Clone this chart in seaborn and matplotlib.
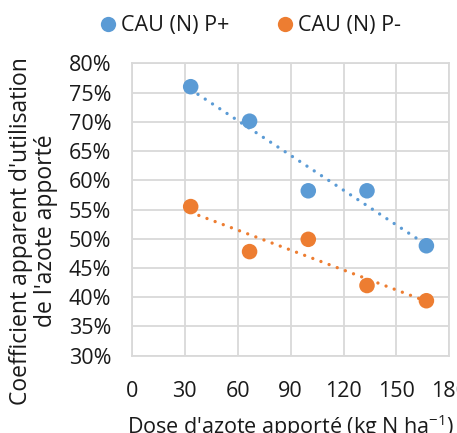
import matplotlib
matplotlib.use("Agg")
import matplotlib.pyplot as plt
import seaborn as sns
import pandas as pd
import numpy as np
from matplotlib.ticker import FuncFormatter

sns.set_style("white")
plt.rcParams['font.family'] = ['Open Sans', 'DejaVu Sans']
plt.rcParams['mathtext.fontset'] = 'custom'
plt.rcParams['mathtext.rm'] = 'Open Sans'
plt.rcParams['mathtext.it'] = 'Open Sans'

doses = [33.3, 66.7, 100, 133.3, 167]
cau_p_plus = [76.0, 70.1, 58.2, 58.2, 48.8]
cau_p_minus = [55.5, 47.8, 49.9, 42.0, 39.4]
series_names = ["CAU (N) P+", "CAU (N) P-"]
colors = ["#5B9BD5", "#ED7D31"]
x_ticks = [0, 30, 60, 90, 120, 150, 180]
y_ticks = [30, 35, 40, 45, 50, 55, 60, 65, 70, 75, 80]

df = pd.DataFrame({
    "dose": doses * 2,
    "cau": cau_p_plus + cau_p_minus,
    "serie": [series_names[0]] * len(doses) + [series_names[1]] * len(doses),
})

FS = 15.5
TXT = "#1a1a1a"

fig = plt.figure(figsize=(4.57, 4.33), dpi=100)
ax = fig.add_axes([0.2888, 0.1785, 0.9832 - 0.2888, 0.8538 - 0.1785])

for name, col in zip(series_names, colors):
    sub = df[df["serie"] == name]
    sns.regplot(data=sub, x="dose", y="cau", ax=ax, scatter=False, ci=None,
                color=col, truncate=True,
                line_kws=dict(linestyle=(0, (0.01, 2.6)), linewidth=2.4,
                              dash_capstyle="round", zorder=2))

sns.scatterplot(data=df, x="dose", y="cau", hue="serie", palette=colors,
                s=125, edgecolor="none", ax=ax, zorder=3, legend=False)

ax.set_xlim(0, 180)
ax.set_ylim(30, 80)
ax.set_xticks(x_ticks)
ax.set_yticks(y_ticks)
ax.yaxis.set_major_formatter(FuncFormatter(lambda v, p: f"{v:.0f}%"))
ax.grid(True, color="#d9d9d9", linewidth=1.3)
ax.set_axisbelow(True)
for s in ax.spines.values():
    s.set_color("#d9d9d9")
    s.set_linewidth(1.3)
ax.tick_params(axis="both", length=0, labelsize=FS, colors=TXT)
ax.tick_params(axis="x", pad=18)
ax.tick_params(axis="y", pad=15)

ax.set_xlabel("Dose d'azote apporté (kg N ha$^{\\mathrm{-1}}$)", fontsize=FS, color=TXT, labelpad=8)
ax.set_ylabel("Coefficient apparent d'utilisation\nde l'azote apporté", fontsize=16.5,
              color=TXT, linespacing=1.05)
ax.yaxis.set_label_coords(-0.232, 0.427)

handles = [plt.Line2D([], [], marker="o", linestyle="none", markersize=11,
                      markerfacecolor=c, markeredgecolor="none") for c in colors]
fig.legend(handles, series_names, loc="center", bbox_to_anchor=(0.545, 0.94),
           ncol=2, frameon=False, fontsize=FS, handletextpad=0.1,
           columnspacing=2.1, handlelength=1.0, labelcolor=TXT)

fig.savefig("out.png", dpi=100)
